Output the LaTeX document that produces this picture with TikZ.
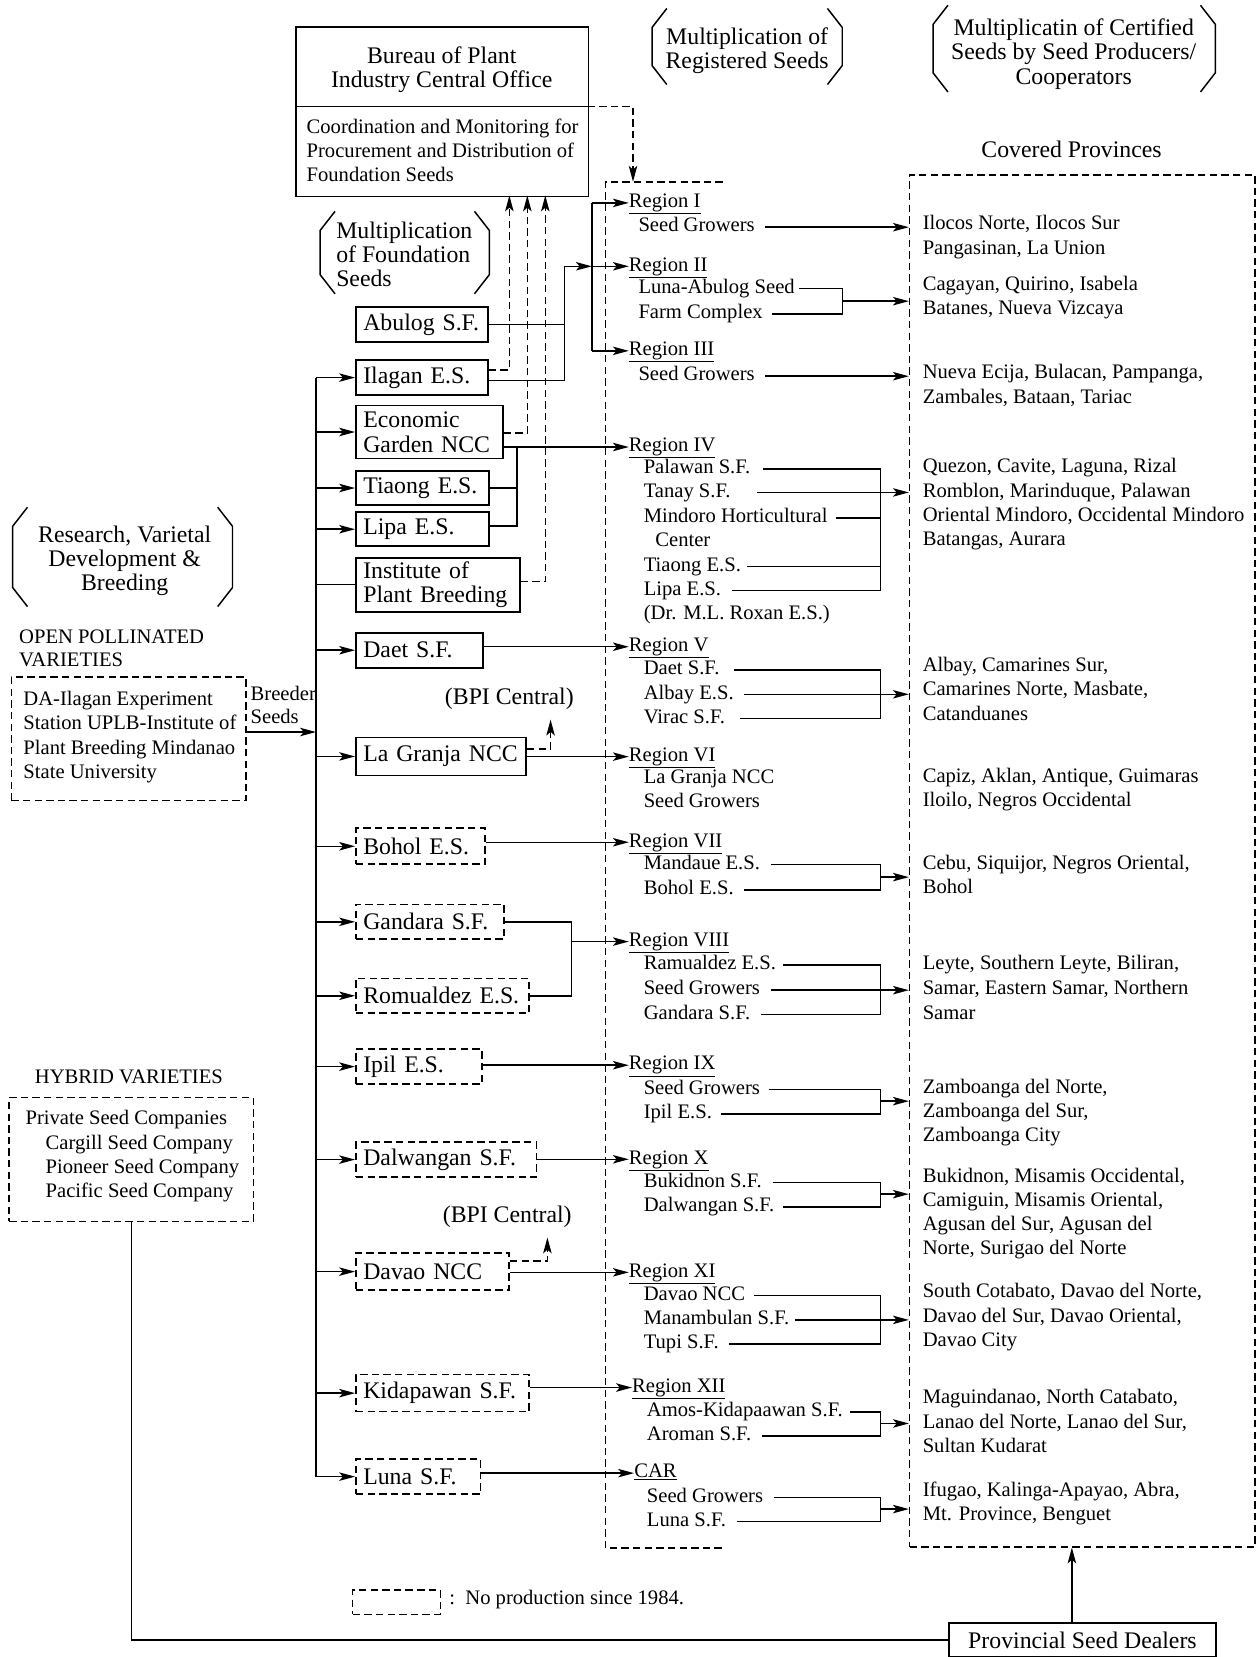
\documentclass[tikz,border=0pt]{standalone}
\usepackage{fontspec}
\setmainfont{Liberation Serif}
\usetikzlibrary{arrows.meta}
\newcommand\smallf{\fontsize{19.5}{23}\selectfont}
\newcommand\bigf{\fontsize{22.5}{23.5}\selectfont}
\newcommand\mylines[6]{\foreach \tx [count=\ii] in {#6} {\node[#1] (#2\ii) at (#3,{#4+(\ii-1)*#5}) {\tx};}}
\newcommand\hexbr[4]{%
 \draw[brk] ({#1+14},#3) -- (#1,{#3+18}) -- (#1,{#4-18}) -- ({#1+14},#4);
 \draw[brk] ({#2-14},#3) -- (#2,{#3+18}) -- (#2,{#4-18}) -- ({#2-14},#4);}
\begin{document}
\begin{tikzpicture}[x=1pt,y=-1pt,
 every node/.style={inner sep=0pt},
 sm/.style={font=\smallf, text height=13pt, text depth=4pt, anchor=west},
 smc/.style={sm, anchor=center},
 bg/.style={font=\bigf, text height=15.5pt, text depth=5pt, anchor=center},
 bgl/.style={bg, anchor=west},
 ln/.style={line width=1.4pt},
 brk/.style={line width=1.4pt},
 arr/.style={ln, -{Stealth[length=15pt,width=8pt,inset=3.5pt]}},
 dsh/.style={dash pattern=on 7pt off 4pt},
 fbox/.style={draw, line width=1.6pt, anchor=north west, font=\bigf, align=left, inner xsep=7pt, inner ysep=0pt},
 nbox/.style={fbox, dsh},
]
\useasboundingbox (0,0) rectangle (1189,1568);
\fill[white] (0,0) rectangle (1189,1568);

% ---------- headings ----------
\hexbr{617}{797}{8}{80}
\mylines{bg}{hR}{707}{37}{23}{{Multiplication of},{Registered Seeds}}
\hexbr{883}{1150}{5}{87}
\mylines{bg}{hC}{1016}{28}{23.5}{{Multiplicatin of Certified},{Seeds by Seed Producers/},{Cooperators}}
\hexbr{303}{463}{200}{278}
\mylines{bgl}{hF}{318}{220}{23}{{Multiplication},{of Foundation},{Seeds}}
\hexbr{12}{220}{480}{574}
\mylines{bg}{hV}{118}{508}{23}{{Research, Varietal},{Development \&},{Breeding}}
\node[bg] (covt) at (1014,144) {Covered Provinces};

% ---------- BPI ----------
\node[draw, line width=1.6pt, anchor=north west, minimum width=277pt, minimum height=160pt] (bpi) at (279,25) {};
\coordinate (divL) at (279,101);
\coordinate (divR) at (556,101);
\draw[ln] (divL) -- (divR);
\mylines{bg}{bpiA}{418}{55}{23}{{Bureau of Plant},{Industry Central Office}}
\mylines{sm}{bpiB}{290}{122}{22.5}{{Coordination and Monitoring for},{Procurement and Distribution of},{Foundation Seeds}}

% ---------- source boxes ----------
\mylines{sm}{opvl}{18}{604}{22}{{OPEN POLLINATED},{VARIETIES}}
\node[draw, ln, dsh, anchor=north west, minimum width=222pt, minimum height=117pt] (opv) at (10,640) {};
\mylines{sm}{opvt}{22}{663}{23}{{DA-Ilagan Experiment},{Station UPLB-Institute of},{Plant Breeding Mindanao},{State University}}
\mylines{sm}{bsd}{237}{658}{22}{{Breeder},{Seeds}}

\node[smc] (hybl) at (122,1021) {HYBRID VARIETIES};
\node[draw, ln, dsh, anchor=north west, minimum width=231pt, minimum height=117pt] (hyb) at (8,1038) {};
\node[sm] (hyb0) at (24,1060) {Private Seed Companies};
\mylines{sm}{hybc}{43}{1083}{23}{{Cargill Seed Company},{Pioneer Seed Company},{Pacific Seed Company}}

% ---------- foundation boxes ----------
\node[fbox, text width=111pt, minimum height=33pt] (abulog) at (336,290) {\mbox{Abulog S.F.}};
\node[fbox, text width=111pt, minimum height=33pt] (ilagan) at (336,340) {\mbox{Ilagan E.S.}};
\node[fbox, text width=125pt, minimum height=50pt] (econ) at (336,383) {\mbox{Economic}\\\mbox{Garden NCC}};
\node[fbox, text width=112pt, minimum height=32pt] (tiaong) at (336,445) {\mbox{Tiaong E.S.}};
\node[fbox, text width=112pt, minimum height=32pt] (lipa) at (336,484) {\mbox{Lipa E.S.}};
\node[fbox, text width=141pt, minimum height=51pt] (ipb) at (336,527) {\mbox{Institute of}\\\mbox{Plant Breeding}};
\node[fbox, text width=106pt, minimum height=33pt] (daet) at (336,598) {\mbox{Daet S.F.}};
\node[fbox, text width=147pt, minimum height=36pt] (lagranja) at (336,697) {\mbox{La Granja NCC}};
\node[nbox, text width=108pt, minimum height=34pt] (bohol) at (336,783) {\mbox{Bohol E.S.}};
\node[nbox, text width=126pt, minimum height=33pt] (gandara) at (336,855) {\mbox{Gandara S.F.}};
\node[nbox, text width=150pt, minimum height=33pt] (romu) at (336,925) {\mbox{Romualdez E.S.}};
\node[nbox, text width=105pt, minimum height=33pt] (ipil) at (336,992) {\mbox{Ipil E.S.}};
\node[nbox, text width=157pt, minimum height=33pt] (dalw) at (336,1080) {\mbox{Dalwangan S.F.}};
\node[nbox, text width=131pt, minimum height=35pt] (davao) at (336,1185) {\mbox{Davao NCC}};
\node[nbox, text width=150pt, minimum height=35pt] (kida) at (336,1300) {\mbox{Kidapawan S.F.}};
\node[nbox, text width=104pt, minimum height=33pt] (luna) at (336,1380) {\mbox{Luna S.F.}};

\node[bg] (bpc1) at (482,661) {(BPI Central)};
\node[bg] (bpc2) at (480,1152) {(BPI Central)};

% ---------- registered and covered frames ----------
\draw[ln, dsh] (684,172) -- (573,172) -- (573,1465) -- (684,1465);
\coordinate (regtop) at (599,172);
\node[draw, ln, dsh, anchor=north west, minimum width=327pt, minimum height=1298pt] (cov) at (860,165) {};

% ---------- region labels ----------
\node[sm] (r1) at (595,192) {\underline{Region I}};
\node[sm] (r2) at (595,252) {\underline{Region II}};
\node[sm] (r3) at (595,332) {\underline{Region III}};
\node[sm] (r4) at (595,423) {\underline{Region IV}};
\node[sm] (r5) at (595,612) {\underline{Region V}};
\node[sm] (r6) at (595,716) {\underline{Region VI}};
\node[sm] (r7) at (595,797) {\underline{Region VII}};
\node[sm] (r8) at (595,891) {\underline{Region VIII}};
\node[sm] (r9) at (595,1008) {\underline{Region IX}};
\node[sm] (r10) at (595,1097) {\underline{Region X}};
\node[sm] (r11) at (595,1204) {\underline{Region XI}};
\node[sm] (r12) at (598,1313) {\underline{Region XII}};
\node[sm] (rc) at (600,1394) {\underline{CAR}};

% ---------- region items ----------
\node[sm] (r1a) at (604,215) {Seed Growers};
\node[sm] (r2a) at (604,273) {Luna-Abulog Seed};
\node[sm] (r2b) at (604,297) {Farm Complex};
\node[sm] (r3a) at (604,356) {Seed Growers};
\node[sm] (r4a) at (609,444) {Palawan S.F.};
\node[sm] (r4b) at (609,466) {Tanay S.F.};
\node[sm] (r4c) at (609,490) {Mindoro Horticultural};
\node[sm] (r4d) at (620,513) {Center};
\node[sm] (r4e) at (609,536) {Tiaong E.S.};
\node[sm] (r4f) at (609,559) {Lipa E.S.};
\node[sm] (r4g) at (609,582) {(Dr. M.L. Roxan E.S.)};
\node[sm] (r5a) at (609,634) {Daet S.F.};
\node[sm] (r5b) at (609,657) {Albay E.S.};
\node[sm] (r5c) at (609,680) {Virac S.F.};
\node[sm] (r6a) at (609,737) {La Granja NCC};
\node[sm] (r6b) at (609,760) {Seed Growers};
\node[sm] (r7a) at (609,818) {Mandaue E.S.};
\node[sm] (r7b) at (609,842) {Bohol E.S.};
\node[sm] (r8a) at (609,913) {Ramualdez E.S.};
\node[sm] (r8b) at (609,937) {Seed Growers};
\node[sm] (r8c) at (609,960) {Gandara S.F.};
\node[sm] (r9a) at (609,1031) {Seed Growers};
\node[sm] (r9b) at (609,1054) {Ipil E.S.};
\node[sm] (r10a) at (609,1119) {Bukidnon S.F.};
\node[sm] (r10b) at (609,1142) {Dalwangan S.F.};
\node[sm] (r11a) at (609,1226) {Davao NCC};
\node[sm] (r11b) at (609,1249) {Manambulan S.F.};
\node[sm] (r11c) at (609,1272) {Tupi S.F.};
\node[sm] (r12a) at (612,1336) {Amos-Kidapaawan S.F.};
\node[sm] (r12b) at (612,1359) {Aroman S.F.};
\node[sm] (rca) at (612,1417) {Seed Growers};
\node[sm] (rcb) at (612,1440) {Luna S.F.};

% ---------- provinces ----------
\mylines{sm}{pA}{873}{213}{23}{{Ilocos Norte, Ilocos Sur},{Pangasinan, La Union}}
\mylines{sm}{pB}{873}{270}{23}{{Cagayan, Quirino, Isabela},{Batanes, Nueva Vizcaya}}
\mylines{sm}{pC}{873}{354}{23}{{Nueva Ecija, Bulacan, Pampanga,},{Zambales, Bataan, Tariac}}
\mylines{sm}{pD}{873}{443}{23}{{Quezon, Cavite, Laguna, Rizal},{Romblon, Marinduque, Palawan},{Oriental Mindoro, Occidental Mindoro},{Batangas, Aurara}}
\mylines{sm}{pE}{873}{631}{23}{{Albay, Camarines Sur,},{Camarines Norte, Masbate,},{Catanduanes}}
\mylines{sm}{pF}{873}{736}{23}{{Capiz, Aklan, Antique, Guimaras},{Iloilo, Negros Occidental}}
\mylines{sm}{pG}{873}{818}{23}{{Cebu, Siquijor, Negros Oriental,},{Bohol}}
\mylines{sm}{pH}{873}{913}{23.5}{{Leyte, Southern Leyte, Biliran,},{Samar, Eastern Samar, Northern},{Samar}}
\mylines{sm}{pI}{873}{1030}{23}{{Zamboanga del Norte,},{Zamboanga del Sur,},{Zamboanga City}}
\mylines{sm}{pJ}{873}{1114}{23}{{Bukidnon, Misamis Occidental,},{Camiguin, Misamis Oriental,},{Agusan del Sur, Agusan del},{Norte, Surigao del Norte}}
\mylines{sm}{pK}{873}{1223}{23.5}{{South Cotabato, Davao del Norte,},{Davao del Sur, Davao Oriental,},{Davao City}}
\mylines{sm}{pL}{873}{1324}{23}{{Maguindanao, North Catabato,},{Lanao del Norte, Lanao del Sur,},{Sultan Kudarat}}
\mylines{sm}{pM}{873}{1412}{22.5}{{Ifugao, Kalinga-Apayao, Abra,},{Mt. Province, Benguet}}

% ---------- legend & dealers ----------
\node[draw, ln, dsh, anchor=north west, minimum width=83pt, minimum height=23pt] (leg) at (333,1504) {};
\node[sm] (legt) at (425,1514) {:\ \ No production since 1984.};
\node[draw, line width=1.6pt, anchor=north west, minimum width=253pt, minimum height=32pt, font=\bigf] (psd) at (897,1535) {Provincial Seed Dealers};

% ---------- connectors: left side ----------
\coordinate (sp) at (299,0);
\coordinate (bs) at ([yshift=6.5pt]opv.east);
\draw[ln] (sp |- ilagan.west) -- (sp |- luna.west);
\draw[arr] (bs) -- (bs -| sp);
\foreach \b in {ilagan,econ,tiaong,lipa,daet,lagranja,bohol,gandara,romu,ipil,dalw,davao,kida,luna}
  \draw[arr] (sp |- \b.west) -- (\b.west);
\draw[ln] (sp |- ipb.west) -- (ipb.west);

\draw[ln] (hyb.south) |- (psd.west);
\coordinate (pa) at ([xshift=-10pt]psd.north);
\draw[arr] (pa) -- (pa |- cov.south);

% ---------- connectors: to BPI ----------
\draw[arr, dsh] (divR) -| (regtop);
\coordinate (u1) at (482,185);
\coordinate (u2) at (499,185);
\coordinate (u3) at (516,185);
\draw[arr, dsh] ([yshift=7pt]ilagan.east) -| (u1);
\draw[arr, dsh] ([yshift=-1pt]econ.east) -| (u2);
\draw[arr, dsh] ([yshift=3pt]ipb.east) -| (u3);
\coordinate (bc1) at (521,681);
\coordinate (bc2) at (518,1171);
\draw[arr, dsh] ([yshift=7pt]lagranja.east) -| (bc1);
\draw[arr, dsh] ([yshift=10pt]davao.east) -| (bc2);

% ---------- connectors: foundation -> regions ----------
\coordinate (v12) at (534,0);
\coordinate (v13) at (560,0);
\draw[ln] (abulog.east) -- (abulog.east -| v12);
\draw[ln] ([yshift=-3pt]ilagan.east) -| (v12 |- r2.west);
\draw[arr] (v12 |- r2.west) -- (v13 |- r2.west);
\draw[ln] (v13 |- r1.west) -- (v13 |- r3.west);
\draw[arr] (v13 |- r1.west) -- (r1.west);
\draw[arr] (v13 |- r2.west) -- (r2.west);
\draw[arr] (v13 |- r3.west) -- (r3.west);

\coordinate (v4) at (489,0);
\draw[ln] (tiaong.east) -- (tiaong.east -| v4);
\draw[ln] ([yshift=3pt]lipa.east) -| (v4 |- r4.west);
\draw[arr] (econ.east |- r4.west) -- (r4.west);
\draw[arr] (daet.east |- r5.west) -- (r5.west);
\draw[arr] (lagranja.east |- r6.west) -- (r6.west);
\draw[arr] (bohol.east |- r7.west) -- (r7.west);
\coordinate (v8) at (541,0);
\draw[ln] (gandara.east) -| (v8 |- romu.east) -- (romu.east);
\draw[arr] (v8 |- r8.west) -- (r8.west);
\draw[arr] (ipil.east |- r9.west) -- (r9.west);
\draw[arr] (dalw.east |- r10.west) -- (r10.west);
\draw[arr] (davao.east |- r11.west) -- (r11.west);
\draw[arr] (kida.east |- r12.west) -- (r12.west);
\draw[arr] (luna.east |- rc.west) -- (rc.west);

% ---------- connectors: regions -> provinces ----------
\coordinate (bx) at (833,0);
\draw[arr, shorten <=10pt] (r1a.east) -- (r1a.east -| cov.west);
\coordinate (j2) at (797,285);
\draw[ln, shorten <=4pt] (r2a.east) -| (j2);
\draw[ln, shorten <=9pt] (r2b.east) -| (j2);
\draw[arr] (j2) -- (j2 -| cov.west);
\draw[arr, shorten <=10pt] (r3a.east) -- (r3a.east -| cov.west);

\coordinate (j4) at (bx |- r4b.east);
\draw[ln, shorten <=12pt] (r4a.east) -| (j4);
\draw[arr, shorten <=25pt] (r4b.east) -- (r4b.east -| cov.west);
\draw[ln, shorten <=8pt] (r4c.east) -| (j4);
\draw[ln, shorten <=6pt] (r4e.east) -| (j4);
\draw[ln, shorten <=10pt] (r4f.east) -| (j4);

\coordinate (j5) at (bx |- r5b.east);
\draw[ln, shorten <=14pt] (r5a.east) -| (j5);
\draw[arr, shorten <=10pt] (r5b.east) -- (r5b.east -| cov.west);
\draw[ln, shorten <=14pt] (r5c.east) -| (j5);

\coordinate (j7) at (833,830);
\draw[ln, shorten <=10pt] (r7a.east) -| (j7);
\draw[ln, shorten <=10pt] (r7b.east) -| (j7);
\draw[arr] (j7) -- (j7 -| cov.west);

\coordinate (j8) at (bx |- r8b.east);
\draw[ln, shorten <=6pt] (r8a.east) -| (j8);
\draw[arr, shorten <=10pt] (r8b.east) -- (r8b.east -| cov.west);
\draw[ln, shorten <=10pt] (r8c.east) -| (j8);

\coordinate (j9) at (833,1042);
\draw[ln, shorten <=8pt] (r9a.east) -| (j9);
\draw[ln, shorten <=8pt] (r9b.east) -| (j9);
\draw[arr] (j9) -- (j9 -| cov.west);

\coordinate (j10) at (833,1130);
\draw[ln, shorten <=10pt] (r10a.east) -| (j10);
\draw[ln, shorten <=8pt] (r10b.east) -| (j10);
\draw[arr] (j10) -- (j10 -| cov.west);

\coordinate (j11) at (bx |- r11b.east);
\draw[ln, shorten <=8pt] (r11a.east) -| (j11);
\draw[arr, shorten <=5pt] (r11b.east) -- (r11b.east -| cov.west);
\draw[ln, shorten <=10pt] (r11c.east) -| (j11);

\coordinate (j12) at (833,1347);
\draw[ln, shorten <=7pt] (r12a.east) -| (j12);
\draw[ln, shorten <=10pt] (r12b.east) -| (j12);
\draw[arr] (j12) -- (j12 -| cov.west);

\coordinate (jc) at (833,1428);
\draw[ln, shorten <=10pt] (rca.east) -| (jc);
\draw[ln, shorten <=10pt] (rcb.east) -| (jc);
\draw[arr] (jc) -- (jc -| cov.west);
\end{tikzpicture}
\end{document}
